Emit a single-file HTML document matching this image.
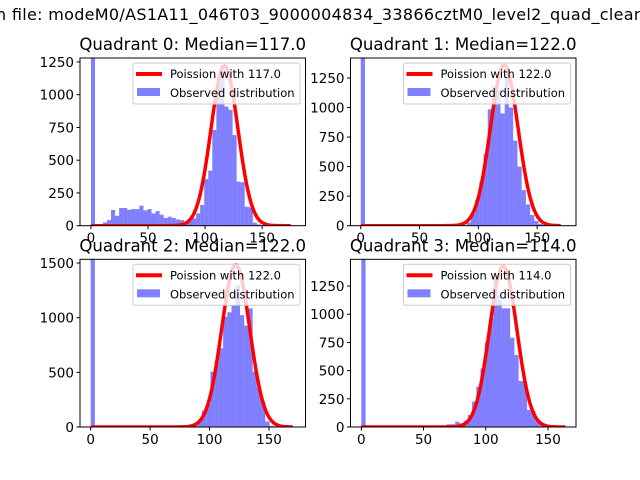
<!DOCTYPE html>
<html><head><meta charset="utf-8"><style>
body{margin:0;background:#fff;}
svg{display:block;font-family:"DejaVu Sans","Liberation Sans",sans-serif;}
</style></head><body>
<svg id="fig" width="640" height="480" viewBox="0 0 640 480">
<text x="-4" y="20" font-size="16" textLength="648">n file: modeM0/AS1A11_046T03_9000004834_33866cztM0_level2_quad_clean</text>
</svg>
<script>
// ---- data ----
const quadNames = ["Quadrant 0: Median=117.0","Quadrant 1: Median=122.0","Quadrant 2: Median=122.0","Quadrant 3: Median=114.0"];
const lambdas = [117.0, 122.0, 122.0, 114.0];
const poissonPeaks = [1220, 1360, 1482, 1427];
const curveSigmas = [11.8, 11.8, 11.8, 11];
const poissonMaxK = [175, 170, 170, 164];
const spikeCounts = [99999, 99999, 99999, 99999];
const binWidths = [3.55, 3.6, 3.55, 3.4];
const binStarts = [10.5, 90, 83, 68.6];
const counts0 = [25,43,120,76,135,135,122,127,127,153,117,127,94,112,84,59,69,59,48,43,30,38,56,94,158,356,420,730,1087,1227,909,884,692,336,331,145,140,23,10];
const counts1 = [28,99,217,372,604,985,1177,1150,950,1290,1000,720,500,300,180,90,40,15];
const counts2 = [12,12,64,150,210,506,600,720,1009,1049,1116,1300,1024,927,1085,506,369,232,50,10];
const counts3 = [24,24,47,33,56,106,225,357,520,750,963,1333,1170,1052,1052,792,638,408,400,151,140,50,15];
const allCounts = [counts0, counts1, counts2, counts3];
const xTicks = [0, 50, 100, 150];
const yTicks0 = [0,250,500,750,1000,1250];
const yTicks1 = [0,250,500,750,1000,1250];
const yTicks2 = [0,500,1000,1500];
const yTicks3 = [0,250,500,750,1000,1250];
const allYTicks = [yTicks0, yTicks1, yTicks2, yTicks3];
const xLims = [[-9.6,188],[-8.7,183],[-9,180.7],[-8.7,172.5]];
const yLims = [[0,1280],[0,1419],[0,1534],[0,1487]];
// ---- layout ----
const boxes = [[80,58,305.5,225.7],[350.5,58,576,225.7],[80,259.3,305.5,427],[350.5,259.3,576,427]];
const NS = "http://www.w3.org/2000/svg";
const svg = document.getElementById('fig');
function mk(tag, attrs, parent){const e=document.createElementNS(NS,tag);for(const k in attrs)e.setAttribute(k,attrs[k]);(parent||svg).appendChild(e);return e;}

for(let q=0;q<4;q++){
  const [L,T,R,B]=boxes[q];
  const xs=v=>L+(v-xLims[q][0])/(xLims[q][1]-xLims[q][0])*(R-L);
  const ys=v=>B-(v-yLims[q][0])/(yLims[q][1]-yLims[q][0])*(B-T);
  const g=mk('g',{});
  
  
  const cp=mk('clipPath',{id:'cp'+q},g);
  mk('rect',{x:L,y:T,width:R-L,height:B-T},cp);
  const plot=mk('g',{'clip-path':'url(#cp'+q+')'},g);
  // spike
  const sp=mk('rect',{x:xs(0),y:ys(spikeCounts[q]),width:xs(binWidths[q])-xs(0),height:ys(0)-ys(spikeCounts[q]),fill:'rgba(0,0,255,0.5)'},plot);
  
  
  // bars
  allCounts[q].forEach((c,i)=>{
    const x0=binStarts[q]+i*binWidths[q];
    const r=mk('rect',{x:xs(x0),y:ys(c),width:xs(x0+binWidths[q])-xs(x0),height:ys(0)-ys(c),fill:'rgba(0,0,255,0.5)'},plot);
    
    
  });
  // poisson line
  const lam=lambdas[q], sg=curveSigmas[q];
  let d='';
  for(let k=0;k<=poissonMaxK[q];k++){
    const v=poissonPeaks[q]*Math.exp(-((k-lam)*(k-lam))/(2*sg*sg));
    d+=(k?'L':'M')+xs(k).toFixed(2)+','+ys(v).toFixed(2);
  }
  const line=mk('path',{d:d,fill:'none',stroke:'#ff0000','stroke-width':3.5,'stroke-linejoin':'round'},plot);
  
  
  // frame
  mk('rect',{x:L,y:T,width:R-L,height:B-T,fill:'none',stroke:'#000','stroke-width':1},g);
  // x ticks
  xTicks.forEach(t=>{
    const x=xs(t);
    mk('line',{x1:x,y1:B,x2:x,y2:B+3.5,stroke:'#000'},g);
    const tx=mk('text',{x:x,y:B+17,'font-size':13.5,'text-anchor':'middle'},g);tx.textContent=t;
    
    
  });
  allYTicks[q].forEach(t=>{
    const y=ys(t);
    mk('line',{x1:L,y1:y,x2:L-3.5,y2:y,stroke:'#000'},g);
    const tx=mk('text',{x:L-6,y:y+5,'font-size':13.5,'text-anchor':'end'},g);tx.textContent=t;
    
    
  });
  // title
  const ti=mk('text',{x:(L+R)/2,y:T-8,'font-size':16.6,'text-anchor':'middle'},g);ti.textContent=quadNames[q];
  
  
  // legend
  const lg=mk('g',{},g);
  
  
  const lx=R-172.5, ly=T+5;
  mk('rect',{x:lx,y:ly,width:167,height:41,rx:2,fill:'rgba(255,255,255,0.8)',stroke:'#ccc'},lg);
  mk('line',{x1:lx+3,y1:ly+11,x2:lx+29,y2:ly+11,stroke:'#ff0000','stroke-width':4},lg);
  const t1=mk('text',{x:lx+37,y:ly+15,'font-size':11.5},lg);t1.textContent='Poission with '+lambdas[q].toFixed(1);
  
  
  mk('rect',{x:lx+4,y:ly+25,width:23,height:8,fill:'rgba(0,0,255,0.5)'},lg);
  const t2=mk('text',{x:lx+37,y:ly+34,'font-size':11.5},lg);t2.textContent='Observed distribution';
  
  
}
</script>
</body></html>
